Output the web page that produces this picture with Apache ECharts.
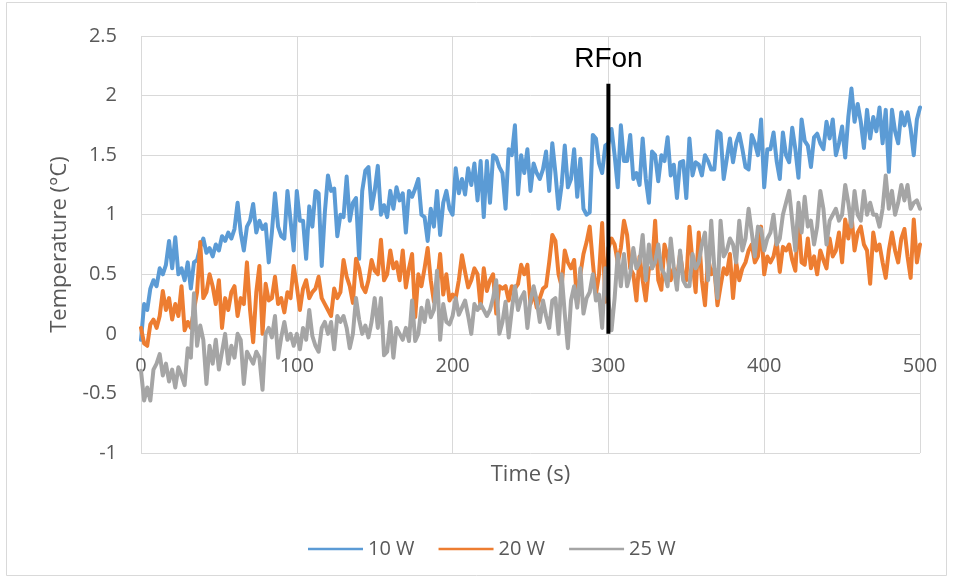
<!DOCTYPE html>
<html>
<head>
<meta charset="utf-8">
<script src="https://cdn.jsdelivr.net/npm/echarts@6/dist/echarts.min.js"></script>
<style>
html,body{margin:0;padding:0;background:#fff;}
#chart{width:953px;height:579px;}
</style>
</head>
<body>
<div id="chart"></div>
<script>
// Time axis: samples every 2 s from 0 to 500 s
const timeStart = 0, timeStep = 2;
const xTicks = [0, 100, 200, 300, 400, 500];
const yTicks = [-1, -0.5, 0, 0.5, 1, 1.5, 2, 2.5];
const seriesNames = ['10 W', '20 W', '25 W'];

const temp10W = [
  -0.05, 0.25, 0.2, 0.38, 0.45, 0.4, 0.55, 0.5, 0.58, 0.78,
  0.55, 0.81, 0.5, 0.55, 0.45, 0.6, 0.38, 0.6, 0.62, 0.73,
  0.8, 0.68, 0.72, 0.65, 0.75, 0.7, 0.82, 0.78, 0.85, 0.8,
  0.88, 1.1, 0.85, 0.7, 0.9, 0.95, 1.09, 0.85, 0.95, 0.88,
  0.92, 0.6, 0.85, 1.18, 0.9, 0.82, 0.8, 1.2, 0.95, 0.7,
  1.2, 0.95, 0.95, 0.63, 1.07, 0.9, 1.2, 1.18, 0.57, 1.02,
  1.33, 1.2, 1.22, 0.82, 1.0, 0.98, 1.32, 0.95, 1.1, 1.14,
  0.63, 1.2, 1.37, 1.4, 1.05, 1.2, 1.41, 1.0, 1.08, 0.98,
  1.2, 1.05, 1.23, 1.12, 1.18, 0.85, 1.2, 1.15, 1.22, 1.3,
  1.0, 0.98, 0.78, 1.05, 0.9, 1.2, 0.83, 1.1, 1.2, 1.05,
  1.0, 1.39, 1.18, 1.3, 1.17, 1.39, 1.25, 1.43, 1.12, 1.45,
  0.98, 1.45, 1.1, 1.5, 1.48, 1.4, 1.35, 1.05, 1.55, 1.5,
  1.75, 1.17, 1.5, 1.35, 1.55, 1.2, 1.43, 1.35, 1.3, 1.38,
  1.53, 1.2, 1.6, 1.35, 1.05, 1.25, 1.58, 1.23, 1.3, 1.55,
  1.15, 1.47, 1.05, 1.0, 1.02, 1.67, 1.64, 1.43, 1.35, 1.58,
  1.6, 1.72, 1.5, 1.23, 1.75, 1.45, 1.45, 1.67, 1.3, 1.35,
  1.25, 1.64, 1.3, 1.1, 1.53, 1.5, 1.28, 1.5, 1.45, 1.65,
  1.33, 1.42, 1.14, 1.44, 1.45, 1.14, 1.64, 1.33, 1.44, 1.42,
  1.33, 1.5, 1.45, 1.38, 1.38, 1.7, 1.68, 1.3, 1.47, 1.64,
  1.44, 1.6, 1.68, 1.55, 1.4, 1.38, 1.67, 1.6, 1.5, 1.8,
  1.23, 1.55, 1.55, 1.69, 1.45, 1.3, 1.69, 1.5, 1.44, 1.73,
  1.55, 1.31, 1.8, 1.62, 1.58, 1.4, 1.65, 1.68, 1.6, 1.55,
  1.78, 1.64, 1.8, 1.5, 1.6, 1.74, 1.48, 1.82, 2.06, 1.78,
  1.93, 1.78, 1.56, 1.88, 1.64, 1.82, 1.7, 1.9, 1.6, 1.88,
  1.36, 1.88, 1.7, 1.6, 1.86, 1.75, 1.86, 1.72, 1.5, 1.8,
  1.9
];

const temp20W = [
  0.05, -0.08, -0.1, 0.08, 0.12, 0.05, 0.15, 0.36, 0.2, 0.3,
  0.12, 0.25, 0.15, 0.4, 0.03, 0.1, 0.05, 0.2, 0.35, 0.77,
  0.3, 0.35, 0.5, 0.4, 0.25, 0.45, 0.05, 0.3, 0.2, 0.35,
  0.4, 0.15, 0.3, 0.25, 0.6, 0.2, -0.07, 0.35, 0.57, 0.0,
  0.42, 0.28, 0.3, 0.48, 0.25, 0.3, 0.18, 0.35, 0.3, 0.57,
  0.4, 0.2, 0.38, 0.45, 0.3, 0.35, 0.38, 0.48, 0.3, 0.25,
  0.2, 0.15, 0.38, 0.3, 0.35, 0.62, 0.48, 0.4, 0.26, 0.63,
  0.55, 0.4, 0.35, 0.45, 0.62, 0.53, 0.5, 0.79, 0.45, 0.5,
  0.7, 0.55, 0.6, 0.45, 0.7, 0.39, 0.55, 0.67, 0.14, 0.5,
  0.4, 0.55, 0.72, 0.45, 0.27, 0.4, 0.67, 0.33, 0.5, 0.28,
  0.33, 0.3, 0.45, 0.66, 0.52, 0.39, 0.45, 0.55, 0.5, 0.22,
  0.55, 0.36, 0.45, 0.5, 0.17, 0.4, 0.38, 0.4, 0.28, 0.4,
  0.38, 0.42, 0.58, 0.5, 0.58, 0.25, 0.35, 0.22, 0.3, 0.38,
  0.4, 0.6, 0.83, 0.78, 0.5, 0.4, 0.7, 0.6, 0.55, 0.62,
  0.25, 0.5, 0.67, 0.77, 0.9, 0.6, 0.33, 0.5, 0.93, 0.27,
  0.72, 0.8, 0.75, 0.6, 0.72, 0.95, 0.83, 0.55, 0.5, 0.28,
  0.65, 0.45, 0.28, 0.55, 0.55, 0.95, 0.45, 0.37, 0.75, 0.65,
  0.45, 0.55, 0.45, 0.67, 0.5, 0.45, 0.9, 0.6, 0.35, 0.85,
  0.45, 0.24, 0.64, 0.5, 0.55, 0.24, 0.4, 0.55, 0.5, 0.67,
  0.3, 0.6, 0.45, 0.55, 0.6, 0.7, 0.75, 0.6, 0.65, 0.9,
  0.5, 0.65, 0.6, 0.65, 0.78, 0.52, 0.73, 0.7, 0.75, 0.62,
  0.53, 0.98, 0.6, 0.58, 0.8, 0.55, 0.65, 0.5, 0.7, 0.62,
  0.55, 0.8, 0.65, 0.7, 0.85, 0.6, 0.96, 0.8, 1.0, 0.7,
  0.85, 0.9, 0.75, 0.7, 0.42, 0.85, 0.7, 0.75, 0.6, 0.47,
  0.7, 0.85, 0.7, 0.6, 0.8, 0.88, 0.65, 0.47, 0.96, 0.6,
  0.75
];

const temp25W = [
  -0.31, -0.56, -0.45, -0.56, -0.3, -0.25, -0.17, -0.35, -0.25, -0.4,
  -0.3, -0.45, -0.28, -0.35, -0.43, -0.12, -0.2, 0.34, -0.1, 0.07,
  -0.05, -0.42, -0.1, -0.25, -0.05, -0.3, -0.15, 0.0, -0.25, -0.1,
  -0.2, 0.0, -0.05, -0.42, -0.15, -0.2, -0.25, -0.15, -0.2, -0.47,
  0.0, 0.05, -0.03, 0.15, -0.2, -0.03, 0.1, -0.05, 0.0, -0.1,
  0.0, -0.13, 0.05, -0.05, 0.2, -0.02, -0.1, -0.15, 0.05, 0.1,
  0.0, 0.1, -0.13, 0.15, 0.1, 0.15, 0.05, -0.12, 0.0, 0.3,
  0.12, 0.0, 0.07, -0.03, 0.1, 0.3, 0.05, 0.3, -0.18, -0.15,
  0.1, -0.2, 0.05, 0.0, -0.05, 0.05, -0.06, 0.28, -0.06, 0.0,
  0.22, 0.1, 0.28, 0.14, 0.2, 0.53, -0.05, 0.25, 0.1, 0.08,
  0.15, 0.3, 0.16, 0.22, 0.28, 0.15, 0.0, 0.25, 0.2, 0.25,
  0.2, 0.15, 0.2, 0.3, 0.45, 0.0, 0.1, 0.27, -0.03, 0.2,
  0.4, 0.2, 0.3, 0.35, 0.05, 0.28, 0.4, 0.28, 0.1, 0.28,
  0.15, 0.05, 0.28, 0.3, 0.0, 0.5, 0.17, -0.12, 0.28, 0.4,
  0.22, 0.55, 0.17, 0.3, 0.35, 0.5, 0.28, 0.33, 0.05, 0.55,
  0.28, 0.03, 0.3, 0.67, 0.4, 0.67, 0.4, 0.5, 0.72, 0.55,
  0.6, 0.83, 0.45, 0.75, 0.55, 0.6, 0.75, 0.55, 0.5, 0.4,
  0.8, 0.55, 0.37, 0.7, 0.45, 0.4, 0.4, 0.67, 0.55, 0.6,
  0.75, 0.85, 0.45, 0.95, 0.55, 0.3, 0.95, 0.65, 0.7, 0.8,
  0.75, 0.6, 0.95, 0.7, 0.8, 1.05, 0.85, 0.65, 0.9, 0.88,
  0.7, 0.8, 0.85, 1.0, 0.75, 0.8, 1.0, 1.1, 1.2, 0.95,
  0.7, 1.1, 0.85, 1.15, 0.9, 0.95, 0.75, 0.9, 1.2, 1.05,
  0.75, 0.95, 1.0, 1.05, 0.95, 1.0, 1.25, 1.1, 0.9, 1.2,
  1.0, 0.95, 1.2, 1.0, 1.1, 1.0, 1.0, 0.9, 1.05, 1.33,
  1.05, 1.2, 1.0, 1.1, 1.25, 1.12, 1.25, 1.05, 1.1, 1.12,
  1.05
];

// RF switched on marker
const rfonTime = 300;
const rfonBottom = 0;
const rfonTop = 2.1;
const rfonLabel = 'RFon';

const colors = ['#5B9BD5', '#ED7D31', '#A5A5A5'];
const textColor = '#595959';
const gridColor = '#D9D9D9';
const fontFamily = '"Open Sans", sans-serif';

// layout
const gridLeft = 141, gridRight = 33, gridTop = 36, gridBottom = 126;
const chartW = 953, chartH = 579;
const yMin = yTicks[0], yMax = yTicks[yTicks.length - 1];
const plotH = chartH - gridTop - gridBottom;
// move x axis up to sit on y = 0 (like Excel's crossing)
const xAxisOffset = -plotH * (0 - yMin) / (yMax - yMin);

function pairs(values) {
  return values.map((v, i) => [timeStart + i * timeStep, v]);
}

const allSeries = [temp10W, temp20W, temp25W].map((vals, i) => ({
  name: seriesNames[i],
  type: 'line',
  data: pairs(vals),
  showSymbol: false,
  symbol: 'none',
  lineStyle: { width: 4, color: colors[i], join: 'round', cap: 'round' },
  itemStyle: { color: colors[i] },
  silent: true,
  z: 2 + i
}));

allSeries.push({
  name: rfonLabel,
  type: 'line',
  data: [
    [rfonTime, rfonBottom],
    { value: [rfonTime, rfonTop], label: {
        show: true, position: 'top', distance: 10, formatter: rfonLabel,
        color: '#000', fontSize: 28, fontFamily: '"Liberation Sans", Arial, sans-serif'
    } }
  ],
  showSymbol: true,
  showAllSymbol: true,
  symbol: 'circle',
  symbolSize: 0,
  itemStyle: { color: '#000' },
  lineStyle: { width: 4, color: '#000' },
  silent: true,
  z: 10
});

const chart = echarts.init(document.getElementById('chart'), null, { renderer: 'canvas' });
chart.setOption({
  animation: false,
  backgroundColor: '#fff',
  textStyle: { fontFamily: fontFamily },
  graphic: [{
    type: 'rect', shape: { x: 6.5, y: 2.5, width: 940, height: 573 },
    style: { fill: 'none', stroke: gridColor, lineWidth: 1 }, silent: true, z: -10
  }],
  grid: { left: gridLeft, right: gridRight, top: gridTop, bottom: gridBottom,
          containLabel: false, outerBoundsMode: 'none' },
  legend: {
    data: seriesNames,
    left: 303, top: 534,
    itemWidth: 55, itemHeight: 14, itemGap: 24,
    textStyle: { color: textColor, fontSize: 20, fontFamily: fontFamily },
    icon: 'path://M0,6 L55,6 L55,8.5 L0,8.5 Z'
  },
  xAxis: {
    type: 'value', min: xTicks[0], max: xTicks[xTicks.length - 1], interval: 100,
    position: 'bottom', offset: xAxisOffset,
    name: 'Time (s)', nameLocation: 'middle', nameGap: 130,
    nameTextStyle: { color: textColor, fontSize: 22, fontFamily: fontFamily },
    axisLine: { show: true, onZero: false, lineStyle: { color: gridColor, width: 1 } },
    axisTick: { show: false },
    axisLabel: { color: textColor, fontSize: 20, margin: 22, fontFamily: fontFamily },
    splitLine: { show: true, lineStyle: { color: gridColor, width: 1 } }
  },
  yAxis: {
    type: 'value', min: yMin, max: yMax, interval: 0.5,
    name: 'Temperature (°C)', nameLocation: 'middle', nameGap: 70,
    nameTextStyle: { color: textColor, fontSize: 22, fontFamily: fontFamily },
    axisLine: { show: false, onZero: false },
    axisTick: { show: false },
    axisLabel: { color: textColor, fontSize: 20, margin: 24, fontFamily: fontFamily },
    splitLine: { show: true, lineStyle: { color: gridColor, width: 1 } }
  },
  series: allSeries
});
</script>
</body>
</html>
